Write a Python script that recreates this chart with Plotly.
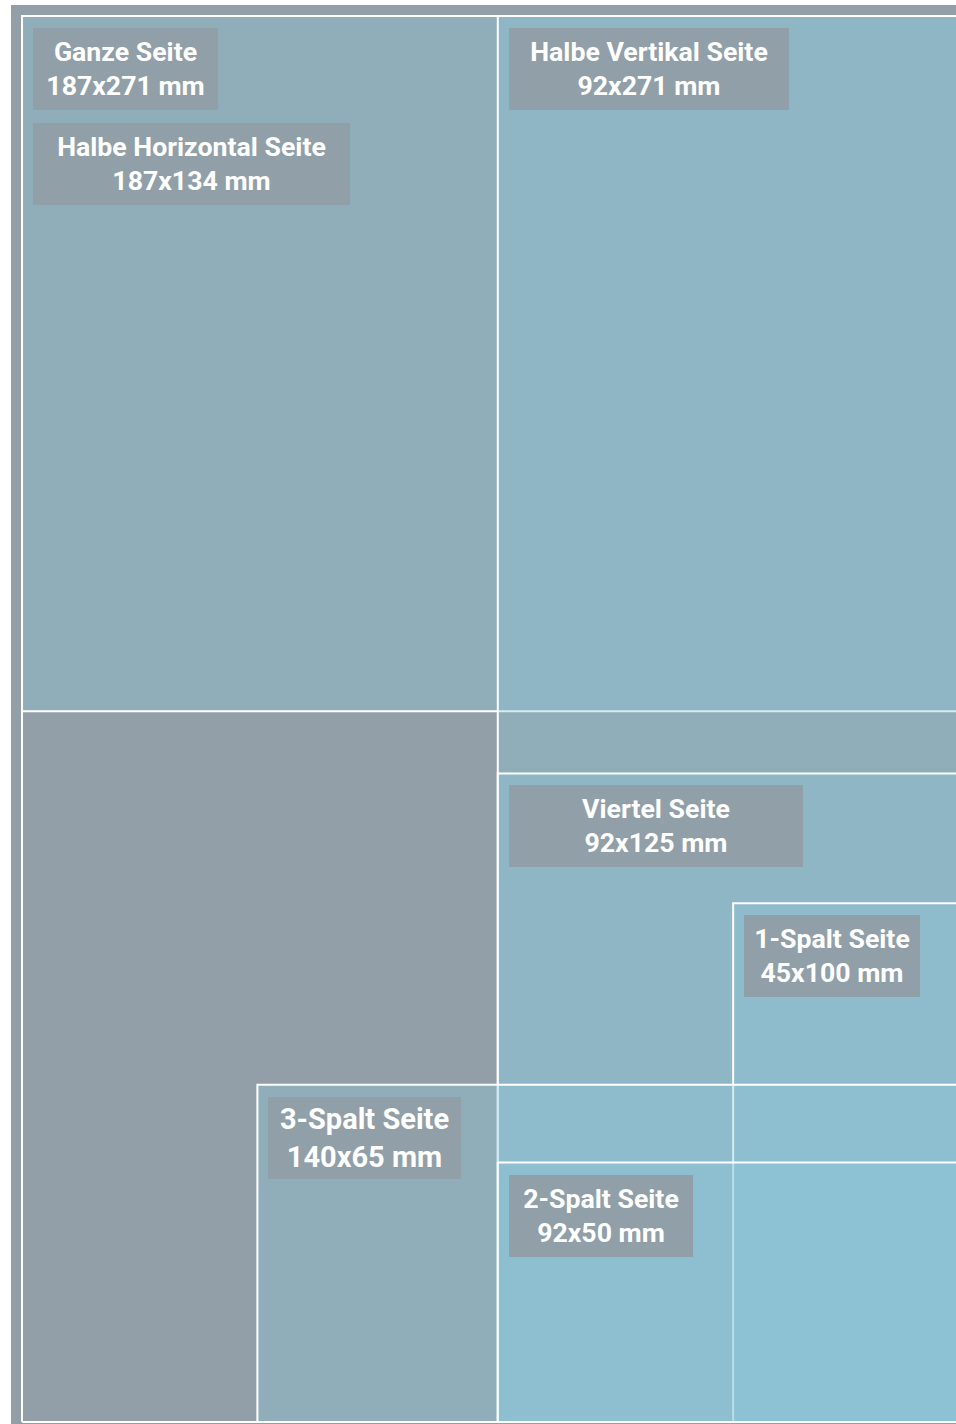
import plotly.graph_objects as go

# ---- data ----
labels = ["Ganze Seite", "Halbe Horizontal Seite", "Halbe Vertikal Seite",
          "Viertel Seite", "1-Spalt Seite", "3-Spalt Seite", "2-Spalt Seite"]
width_mm = [187, 187, 92, 92, 45, 140, 92]
height_mm = [271, 134, 271, 125, 100, 65, 50]
anchor = ["bottom", "top", "bottom", "bottom", "bottom", "bottom", "bottom"]

# ---- styles ----
PAGE_W, PAGE_H = 187, 271
BASE_GRAY = "#929FA8"
BOX_GRAY = "#919FA8"
TINT = "rgba(141,199,216,0.37)"
box_width = {"Ganze Seite": 185, "Halbe Horizontal Seite": 317, "Halbe Vertikal Seite": 280,
             "Viertel Seite": 294, "1-Spalt Seite": 176, "3-Spalt Seite": 193, "2-Spalt Seite": 184}
font_size = {"3-Spalt Seite": 29}
BOX_H = 82

fig = go.Figure()
annotations = []
used_corners = {}
for i, (lab, w, h, a) in enumerate(zip(labels, width_mm, height_mm, anchor)):
    x0, x1 = PAGE_W - w, PAGE_W
    if a == "bottom":
        y0, y1 = 0, h
    else:
        y0, y1 = PAGE_H - h, PAGE_H
    fill = "rgba(0,0,0,0)" if i == 0 else TINT
    fig.add_trace(go.Scatter(
        x=[x0, x1, x1, x0, x0], y=[y0, y0, y1, y1, y0],
        mode="lines", fill="toself", fillcolor=fill,
        line=dict(color="white", width=2), hoverinfo="skip", showlegend=False))
    key = (x0, y1)
    n = used_corners.get(key, 0)
    used_corners[key] = n + 1
    annotations.append(dict(
        x=x0, y=y1, xref="x", yref="y", xanchor="left", yanchor="top",
        xshift=11, yshift=-12 - n * (BOX_H + 13),
        text=f"<b>{lab}<br>{w}x{h} mm</b>", showarrow=False, align="center",
        font=dict(family="Roboto", size=font_size.get(lab, 26.7), color="white"),
        bgcolor=BOX_GRAY, borderpad=0, borderwidth=0,
        width=box_width[lab], height=BOX_H, valign="middle"))

fig.update_layout(
    width=956, height=1424,
    margin=dict(l=11, r=0, t=5, b=0),
    paper_bgcolor="white", plot_bgcolor=BASE_GRAY,
    xaxis=dict(range=[-2.2, PAGE_W - 0.5], visible=False, fixedrange=True),
    yaxis=dict(range=[-0.385, PAGE_H + 2.12], visible=False, fixedrange=True),
    annotations=annotations, showlegend=False)

fig.write_html("out.html", config={"displayModeBar": False},
               post_script="document.body.style.margin='0';document.body.style.overflow='hidden';")
